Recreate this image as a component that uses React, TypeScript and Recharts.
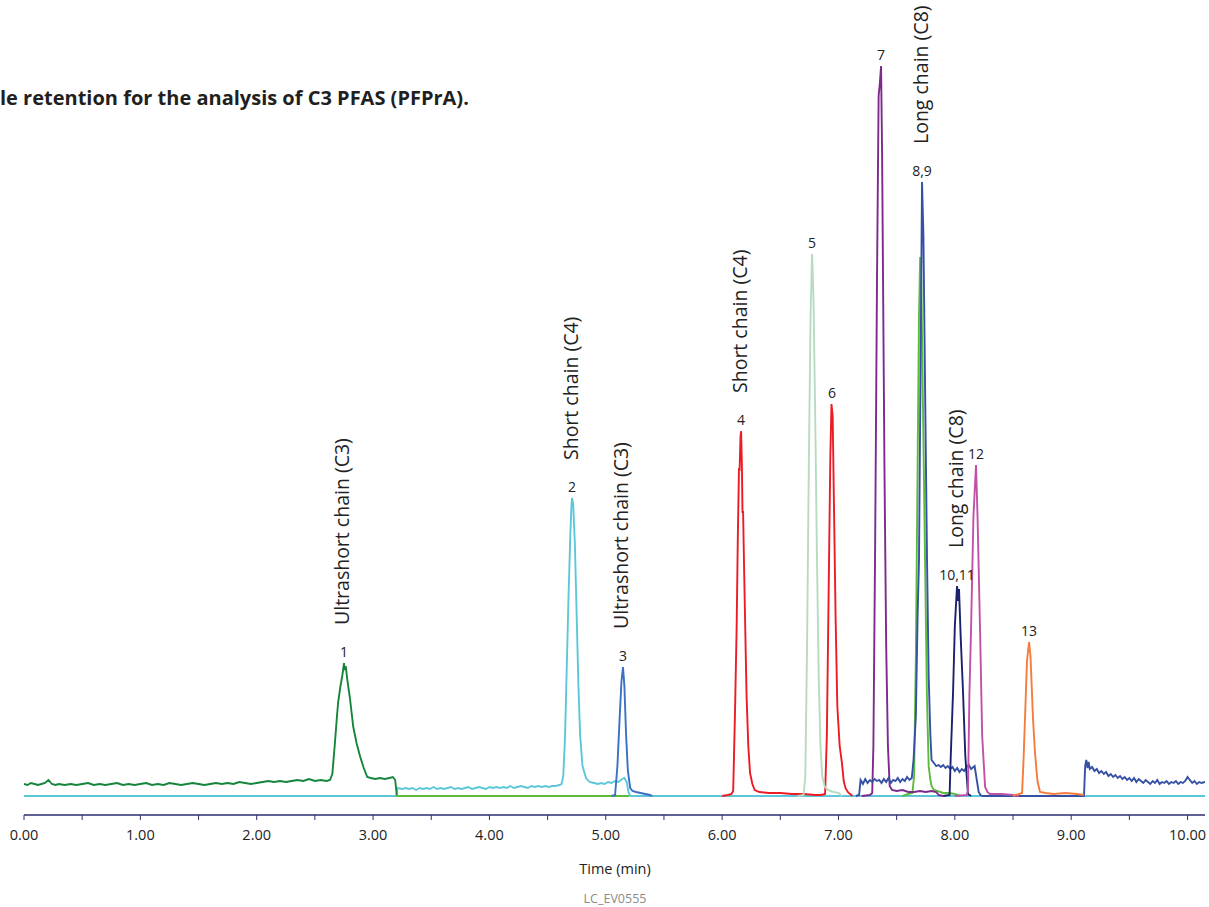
import { LineChart, Line, XAxis, YAxis, ReferenceDot } from 'recharts';

type Pt = [number, number | null];

// retention time (min), detector response above baseline
const trace1: Pt[] = [
  [0.0, 12], [0.03, 11], [0.06, 13], [0.09, 12], [0.12, 11], [0.15, 12], [0.18, 13], [0.21, 16],
  [0.24, 12], [0.27, 11], [0.3, 12], [0.35, 11], [0.4, 12], [0.45, 11], [0.5, 12], [0.55, 13],
  [0.6, 11], [0.65, 12], [0.7, 11], [0.75, 12], [0.8, 13], [0.85, 11], [0.9, 12], [0.95, 11],
  [1.0, 12], [1.05, 13], [1.1, 11], [1.15, 12], [1.2, 11], [1.25, 13], [1.3, 12], [1.35, 11],
  [1.4, 12], [1.45, 13], [1.5, 12], [1.55, 11], [1.6, 12], [1.65, 13], [1.7, 12], [1.75, 13],
  [1.8, 12], [1.85, 14], [1.9, 13], [1.95, 12], [2.0, 13], [2.05, 14], [2.1, 15], [2.15, 14],
  [2.2, 15], [2.25, 14], [2.3, 15], [2.35, 16], [2.4, 15], [2.45, 17], [2.5, 15], [2.55, 16],
  [2.6, 15], [2.63, 16], [2.65, 22], [2.67, 50], [2.69, 80], [2.7, 94], [2.72, 110], [2.735, 120],
  [2.745, 128], [2.75, 133], [2.755, 126], [2.765, 130], [2.78, 115], [2.8, 99], [2.83, 69],
  [2.86, 52], [2.89, 39], [2.92, 28], [2.95, 19], [2.98, 18], [3.02, 17], [3.06, 18], [3.1, 17],
  [3.14, 18], [3.17, 19], [3.19, 16], [3.205, 0],
];

const trace2: Pt[] = [
  [0, 0], [3.2, 0], [3.21, 8], [3.25, 7], [3.28, 8], [3.31, 7], [3.34, 8], [3.37, 6], [3.4, 8],
  [3.43, 7], [3.46, 8], [3.49, 7], [3.52, 9], [3.55, 7], [3.58, 8], [3.61, 7], [3.64, 8], [3.67, 9],
  [3.7, 7], [3.73, 8], [3.76, 7], [3.79, 8], [3.82, 9], [3.85, 7], [3.88, 8], [3.91, 9], [3.94, 8],
  [3.97, 7], [4.0, 9], [4.03, 8], [4.06, 9], [4.09, 8], [4.12, 9], [4.15, 8], [4.18, 10], [4.21, 8],
  [4.24, 9], [4.27, 10], [4.3, 9], [4.33, 8], [4.36, 10], [4.39, 9], [4.42, 10], [4.45, 9],
  [4.48, 10], [4.51, 9], [4.54, 10], [4.57, 10], [4.6, 11], [4.62, 12], [4.635, 20], [4.65, 60],
  [4.665, 130], [4.68, 200], [4.695, 260], [4.705, 290], [4.71, 298], [4.72, 292], [4.735, 250],
  [4.75, 180], [4.765, 110], [4.78, 60], [4.8, 30], [4.83, 18], [4.86, 14], [4.9, 13], [4.93, 12],
  [4.96, 13], [4.99, 12], [5.02, 14], [5.05, 13], [5.08, 15], [5.11, 14], [5.14, 17], [5.16, 18],
  [5.18, 14], [5.195, 4], [5.21, 0], [10.15, 0],
];

const trace3: Pt[] = [
  [5.05, 0], [5.08, 1], [5.1, 30], [5.12, 80], [5.135, 115], [5.148, 129], [5.16, 110], [5.175, 60],
  [5.19, 25], [5.21, 8], [5.23, 5], [5.26, 4], [5.3, 3], [5.34, 2], [5.38, 1], [5.4, 0],
];

const traceRed: Pt[] = [
  [6.0, 0], [6.05, 1], [6.08, 2], [6.095, 5], [6.11, 80], [6.125, 170], [6.135, 260], [6.145, 328],
  [6.15, 325], [6.158, 360], [6.163, 365], [6.17, 330], [6.175, 283], [6.18, 285], [6.19, 220],
  [6.2, 160], [6.21, 100], [6.225, 50], [6.24, 23], [6.26, 12], [6.28, 6], [6.32, 4], [6.4, 3],
  [6.5, 3], [6.6, 2], [6.7, 2], [6.8, 1], [6.85, 1], [6.885, 2], [6.9, 60], [6.915, 200],
  [6.93, 340], [6.94, 392], [6.95, 380], [6.96, 300], [6.975, 180], [6.99, 90], [7.01, 50],
  [7.03, 33], [7.045, 15], [7.06, 8], [7.08, 4], [7.1, 2], [7.12, 0],
];

const trace5: Pt[] = [
  [6.65, 0], [6.7, 1], [6.715, 20], [6.73, 150], [6.745, 330], [6.76, 480], [6.773, 542],
  [6.785, 500], [6.8, 380], [6.815, 240], [6.83, 120], [6.845, 50], [6.86, 20], [6.88, 10],
  [6.9, 7], [6.93, 5], [6.96, 4], [7.0, 3], [7.03, 0],
];

const trace7: Pt[] = [
  [7.2, 0], [7.27, 1], [7.29, 3], [7.3, 50], [7.315, 250], [7.331, 516], [7.345, 700], [7.355, 712],
  [7.366, 730], [7.375, 640], [7.383, 516], [7.395, 330], [7.41, 150], [7.425, 50], [7.44, 10],
  [7.46, 6], [7.5, 5], [7.55, 6], [7.6, 4], [7.65, 4], [7.7, 5], [7.75, 4], [7.8, 5], [7.84, 4],
  [7.86, 1], [7.9, 0],
];

const trace89: Pt[] = [
  [7.15, 0], [7.177, 1], [7.19, 16], [7.21, 12], [7.23, 17], [7.25, 13], [7.27, 16], [7.29, 14],
  [7.31, 17], [7.33, 15], [7.35, 16], [7.37, 13], [7.39, 17], [7.41, 14], [7.43, 18], [7.45, 13],
  [7.47, 16], [7.49, 15], [7.51, 18], [7.53, 14], [7.55, 17], [7.57, 15], [7.59, 19], [7.61, 16],
  [7.63, 18], [7.645, 36], [7.665, 80], [7.68, 180], [7.692, 236], [7.705, 420], [7.718, 614],
  [7.73, 560], [7.745, 400], [7.761, 236], [7.775, 120], [7.79, 60], [7.8, 36], [7.82, 33],
  [7.84, 30], [7.86, 31], [7.88, 29], [7.9, 31], [7.92, 28], [7.94, 30], [7.96, 27], [7.98, 29],
  [8.0, 25], [8.02, 28], [8.04, 24], [8.06, 27], [8.08, 25], [8.1, 29], [8.12, 31], [8.14, 27],
  [8.17, 30], [8.19, 15], [8.205, 4], [8.22, 1], [8.24, 0], [9.11, 0], [9.12, 30], [9.13, 36],
  [9.14, 28], [9.15, 34], [9.16, 27], [9.18, 29], [9.2, 25], [9.22, 27], [9.24, 23], [9.26, 25],
  [9.28, 22], [9.3, 24], [9.32, 20], [9.34, 22], [9.36, 19], [9.38, 21], [9.4, 18], [9.42, 20],
  [9.44, 17], [9.46, 19], [9.48, 16], [9.5, 18], [9.52, 15], [9.54, 18], [9.56, 14], [9.58, 17],
  [9.6, 15], [9.62, 13], [9.64, 16], [9.66, 14], [9.68, 12], [9.7, 15], [9.72, 13], [9.74, 16],
  [9.76, 12], [9.78, 14], [9.8, 13], [9.82, 15], [9.84, 12], [9.86, 14], [9.88, 13], [9.9, 15],
  [9.92, 12], [9.94, 14], [9.96, 13], [9.98, 15], [10.0, 19], [10.02, 16], [10.04, 13], [10.06, 15],
  [10.08, 12], [10.1, 14], [10.12, 13], [10.15, 14],
];

const traceLime: Pt[] = [
  [3.2, 0], [5.2, 0], [5.21, null], [7.55, 0], [7.6, 2], [7.635, 3], [7.65, 20], [7.665, 140],
  [7.68, 330], [7.692, 480], [7.702, 539], [7.712, 515], [7.725, 400], [7.744, 236], [7.76, 100],
  [7.775, 30], [7.79, 16], [7.8, 10], [7.82, 6], [7.85, 5], [7.9, 3], [7.95, 3], [8.0, 2], [8.05, 0],
];

const trace1011: Pt[] = [
  [7.9, 0], [7.955, 1], [7.965, 40], [7.985, 105], [8.0, 170], [8.019, 210], [8.028, 195],
  [8.036, 207], [8.05, 160], [8.07, 105], [8.09, 40], [8.113, 2], [8.14, 0],
];

const trace12: Pt[] = [
  [8.0, 0], [8.1, 1], [8.113, 5], [8.125, 100], [8.139, 165], [8.16, 280], [8.182, 331],
  [8.195, 280], [8.217, 165], [8.235, 60], [8.26, 9], [8.28, 4], [8.3, 2], [8.4, 2], [8.5, 1],
  [8.55, 0],
];

const trace13: Pt[] = [
  [8.5, 0], [8.578, 3], [8.59, 35], [8.603, 77], [8.62, 135], [8.638, 154], [8.65, 140],
  [8.672, 77], [8.689, 43], [8.71, 15], [8.732, 4], [8.78, 3], [8.85, 2], [8.95, 3], [9.05, 2],
  [9.11, 1],
];

const peakNums = ['1', '2', '3', '4', '5', '6', '7', '8,9', '10,11', '12', '13'];
const peakTimes = [2.75, 4.71, 5.148, 6.163, 6.773, 6.944, 7.366, 7.718, 8.019, 8.182, 8.638];
const peakHeights = [133, 298, 129, 365, 542, 392, 730, 614, 210, 331, 154];
const peakClass = [
  'Ultrashort chain (C3)', 'Short chain (C4)', 'Ultrashort chain (C3)', 'Short chain (C4)',
  '', '', '', 'Long chain (C8)', 'Long chain (C8)', '', '',
];

const xTicks = [0, 0.5, 1, 1.5, 2, 2.5, 3, 3.5, 4, 4.5, 5, 5.5, 6, 6.5, 7, 7.5, 8, 8.5, 9, 9.5, 10];

const toRows = (pts: Pt[]) => pts.map(([t, v]) => ({ t, v }));

const series = [
  { key: 'cyan', data: trace2, color: '#5cc7db' },
  { key: 'green', data: trace1, color: '#15853c' },
  { key: 'lime', data: traceLime, color: '#5dbb3c' },
  { key: 'blue3', data: trace3, color: '#3b70c3' },
  { key: 'red', data: traceRed, color: '#ed1c24' },
  { key: 'pale', data: trace5, color: '#b7dbbf' },
  { key: 'purple', data: trace7, color: '#7c2a8b' },
  { key: 'blue89', data: trace89, color: '#3551a3' },
  { key: 'navy', data: trace1011, color: '#1d206c' },
  { key: 'magenta', data: trace12, color: '#c150a7' },
  { key: 'orange', data: trace13, color: '#f47c3c' },
];

const FONT = '"Open Sans", sans-serif';

function PeakLabel(props: any) {
  const { viewBox, num, name } = props;
  const cx = viewBox.x + viewBox.width / 2;
  const cy = viewBox.y + viewBox.height / 2;
  return (
    <g>
      <text x={cx} y={cy - 12} textAnchor="middle" dominantBaseline="central"
        fontFamily={FONT} fontSize={14} fill="#222">{num}</text>
      {name ? (
        <text x={cx - 2} y={cy - 38} transform={`rotate(-90 ${cx - 2} ${cy - 38})`}
          textAnchor="start" dominantBaseline="central" fontFamily={FONT} fontSize={19.5}
          fill="#222">{name}</text>
      ) : null}
    </g>
  );
}

export default function App() {
  return (
    <div style={{ position: 'absolute', left: 0, top: 0, width: 1209, height: 907, background: '#fff' }}>
      <div style={{ position: 'absolute', left: 0, top: 84, fontFamily: FONT, fontWeight: 700,
        fontSize: 20, color: '#231f20', whiteSpace: 'nowrap', letterSpacing: 0 }}>
        le retention for the analysis of C3 PFAS (PFPrA).
      </div>
      <LineChart width={1209} height={907} margin={{ top: 40, right: 4, left: 24, bottom: 52 }}>
        <XAxis type="number" dataKey="t" domain={[0, 10.15]} allowDataOverflow ticks={xTicks}
          interval={0} height={40} tickSize={5} tickMargin={10}
          tickFormatter={(v: number) => (Number.isInteger(v) ? v.toFixed(2) : '')}
          axisLine={{ stroke: '#2b2d72', strokeWidth: 1.5 }} tickLine={{ stroke: '#2b2d72' }}
          tick={{ fontFamily: FONT, fontSize: 14.5, fill: '#222' }} />
        <YAxis hide type="number" domain={[-19, 756]} allowDataOverflow />
        {series.map((s) => (
          <Line key={s.key} data={toRows(s.data)} dataKey="v" type="linear" stroke={s.color}
            strokeWidth={1.9} dot={false} activeDot={false} isAnimationActive={false}
            connectNulls={false} />
        ))}
        {peakNums.map((n, i) => (
          <ReferenceDot key={n} x={peakTimes[i]} y={peakHeights[i]} r={1} fill="none" stroke="none"
            ifOverflow="visible"
            label={(p: any) => <PeakLabel {...p} num={n} name={peakClass[i]} />} />
        ))}
      </LineChart>
      <div style={{ position: 'absolute', left: 0, width: 1230, top: 859, textAlign: 'center',
        fontFamily: FONT, fontSize: 14.5, color: '#222' }}>Time (min)</div>
      <div style={{ position: 'absolute', left: 0, width: 1230, top: 890, textAlign: 'center',
        fontFamily: FONT, fontSize: 12.5, color: '#8a8a8a' }}>LC_EV0555</div>
    </div>
  );
}
